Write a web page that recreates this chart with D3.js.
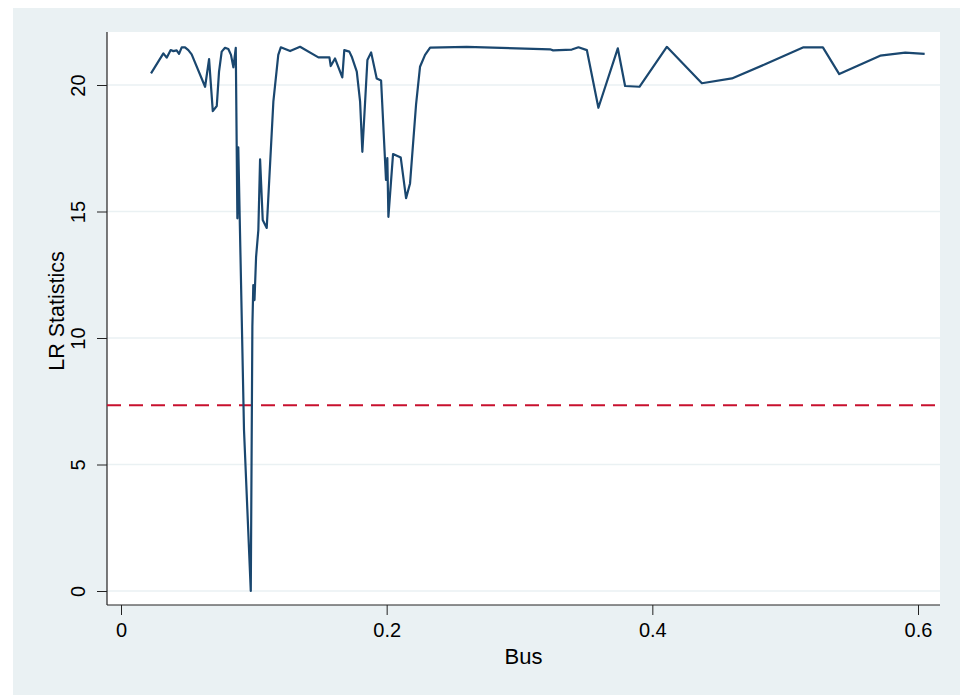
<!DOCTYPE html>
<html><head><meta charset="utf-8">
<script src="https://cdn.jsdelivr.net/npm/d3@7"></script>
<style>body{margin:0;background:#fff}svg{display:block}text{font-family:"Liberation Sans",Arial,sans-serif;fill:#000}</style>
</head><body><svg id="c" width="960" height="695"></svg>
<script>
const busValues = [0.0226,0.0319,0.0344,0.0374,0.0394,0.0419,0.0437,0.0457,0.0482,0.0507,0.0532,0.0633,0.0663,0.0691,0.0721,0.0738,0.0758,0.0783,0.0808,0.0828,0.0846,0.0864,0.0876,0.0883,0.0926,0.0977,0.0989,0.0996,0.1005,0.1017,0.1034,0.1047,0.1067,0.1097,0.1147,0.1184,0.1203,0.1273,0.1348,0.1486,0.1569,0.1579,0.1611,0.1666,0.1681,0.1719,0.1737,0.1775,0.1800,0.1817,0.1855,0.1883,0.1925,0.1958,0.1995,0.2005,0.2013,0.2048,0.2106,0.2146,0.2176,0.2221,0.2251,0.2289,0.2327,0.2603,0.3230,0.3253,0.3394,0.3444,0.3507,0.3594,0.3740,0.3795,0.3903,0.4109,0.4373,0.4599,0.4849,0.5138,0.5284,0.5407,0.5715,0.5904,0.6050];
const lrValues = [20.46,21.25,21.08,21.38,21.34,21.37,21.23,21.49,21.49,21.38,21.21,19.93,21.02,18.97,19.17,20.53,21.32,21.47,21.42,21.19,20.70,21.47,14.73,17.54,6.36,0.0,10.45,12.09,11.50,13.21,14.27,17.06,14.66,14.35,19.34,21.19,21.49,21.34,21.51,21.09,21.09,20.75,21.05,20.30,21.38,21.32,21.12,20.53,19.34,17.36,20.99,21.29,20.26,20.18,16.25,17.11,14.79,17.27,17.13,15.53,16.11,19.21,20.72,21.19,21.48,21.51,21.41,21.37,21.40,21.49,21.38,19.10,21.45,19.96,19.93,21.51,20.07,20.26,20.82,21.49,21.49,20.43,21.16,21.28,21.23];
const criticalValue = [7.34];
const xTicks = [0, 0.2, 0.4, 0.6];
const yTicks = [0, 5, 10, 15, 20];
const xLabel = "Bus";
const yLabel = "LR Statistics";

const svg = d3.select("#c");
const L = 107, R = 940, T = 32, B = 605;
const x = d3.scaleLinear().domain([0, 0.6]).range([121, 918]);
const y = d3.scaleLinear().domain([0, 20]).range([591, 85]);

svg.append("rect").attr("x",13).attr("y",8).attr("width",947).attr("height",687).attr("fill","#eaf1f3");
svg.append("rect").attr("x",L).attr("y",T).attr("width",R-L).attr("height",B-T).attr("fill","#fff");

// grid
svg.append("g").selectAll("line").data(yTicks).join("line")
  .attr("x1",L).attr("x2",R).attr("y1",d=>y(d)).attr("y2",d=>y(d))
  .attr("stroke","#eaf1f3").attr("stroke-width",1.6);

// axes
const yAxis = svg.append("g").attr("transform",`translate(${L},0)`)
  .call(d3.axisLeft(y).tickValues(yTicks).tickSize(10).tickFormat(d3.format("d")));
yAxis.select(".domain").attr("d",`M0,${T}V${B}`).attr("stroke","#222");
yAxis.selectAll(".tick line").attr("stroke","#222");
yAxis.selectAll(".tick text").attr("x",null).attr("dy",null)
  .attr("transform","translate(-22,0) rotate(-90)").attr("text-anchor","middle")
  .style("font-size","20px").style("font-family","Liberation Sans, Arial, sans-serif").attr("fill","#000");

const xAxis = svg.append("g").attr("transform",`translate(0,${B})`)
  .call(d3.axisBottom(x).tickValues(xTicks).tickSize(10).tickFormat(d=>d===0?"0":d3.format(".1f")(d)));
xAxis.select(".domain").attr("d",`M${L},0H${R}`).attr("stroke","#222");
xAxis.selectAll(".tick line").attr("stroke","#222");
xAxis.selectAll(".tick text").attr("y",32).attr("dy",null)
  .style("font-size","20px").style("font-family","Liberation Sans, Arial, sans-serif").attr("fill","#000");
svg.selectAll(".domain").attr("stroke-width",1.2);

// reference line
svg.append("g").selectAll("line").data(criticalValue).join("line")
  .attr("x1",L).attr("x2",R).attr("y1",d=>y(d)).attr("y2",d=>y(d))
  .attr("stroke","#c8102e").attr("stroke-width",2).attr("stroke-dasharray","14,8");

// series
const pts = busValues.map((b,i)=>[b, lrValues[i]]);
svg.append("path").datum(pts)
  .attr("d", d3.line().x(d=>x(d[0])).y(d=>y(d[1])))
  .attr("fill","none").attr("stroke","#1a476f").attr("stroke-width",2.2).attr("stroke-linejoin","round");

svg.append("text").attr("x",(L+R)/2).attr("y",664).attr("text-anchor","middle").style("font-size","22px").text(xLabel);
svg.append("text").attr("transform",`translate(64,311) rotate(-90)`).attr("text-anchor","middle").style("font-size","21.5px").text(yLabel);
</script></body></html>
